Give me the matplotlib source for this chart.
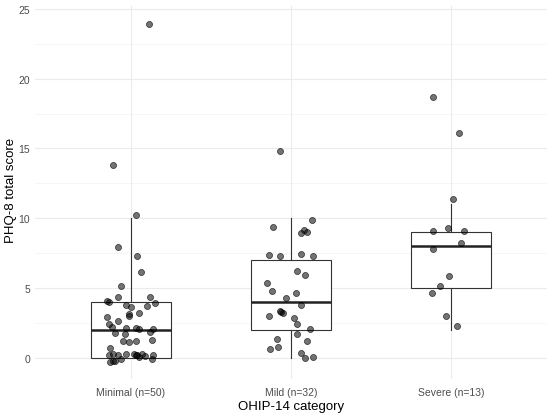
import numpy as np
import matplotlib
matplotlib.use("Agg")
import matplotlib.pyplot as plt

plt.rcParams['font.family'] = ['Liberation Sans', 'DejaVu Sans']

# categories and box statistics
categories = ['Minimal (n=50)', 'Mild (n=32)', 'Severe (n=13)']
whis_lo = [0, 0, 2]
q1 = [0, 2, 5]
med = [2, 4, 8]
q3 = [4, 7, 9]
whis_hi = [10, 10, 11]

# jittered points: horizontal offset from the category centre, and the score
minimal_dx = [0.03, -0.08, 0.04, 0.06, -0.06, -0.08, 0.12, -0.15, -0.14, 0.15,
              -0.03, 0.00, 0.10, 0.05, -0.01, -0.01, -0.15, -0.08, -0.14, -0.12,
              -0.03, 0.03, 0.05, 0.14, 0.12, -0.10, -0.04, 0.13, -0.05, 0.03,
              -0.01, -0.13, -0.14, -0.11, -0.08, -0.03, 0.02, 0.03, 0.07, 0.09,
              0.05, 0.14, 0.13, -0.06, -0.13, -0.11, -0.10, 0.04, -0.11, 0.11]
minimal_y = [10.24, 7.93, 7.30, 6.18, 5.18, 4.39, 4.37, 4.10, 4.03, 3.92,
             3.75, 3.65, 3.68, 3.22, 3.17, 2.98, 2.96, 2.63, 2.39, 2.24,
             2.17, 2.15, 2.03, 2.05, 1.86, 1.81, 1.70, 1.29, 1.24, 1.20,
             1.10, 0.67, 0.17, 0.29, 0.17, 0.31, 0.24, 0.17, 0.26, 0.12,
             0.05, 0.17, -0.10, -0.10, -0.29, -0.26, -0.21, 0.20, 13.78, 23.93]

mild_dx = [0.13, -0.11, 0.08, 0.06, 0.10, -0.14, -0.07, 0.06, 0.14, 0.04,
           0.09, -0.15, -0.12, 0.03, -0.03, 0.06, -0.07, -0.05, -0.06, -0.14,
           0.02, 0.04, 0.12, 0.04, -0.09, 0.10, -0.08, -0.13, 0.06, 0.14,
           0.09, -0.07]
mild_y = [9.84, 9.34, 9.15, 8.95, 8.98, 7.36, 7.28, 7.43, 7.28, 6.23,
          5.90, 5.37, 4.82, 4.63, 4.28, 3.80, 3.35, 3.20, 3.27, 3.01,
          2.84, 2.39, 2.10, 1.72, 1.38, 1.20, 0.79, 0.62, 0.38, 0.07,
          -0.02, 14.83]

severe_dx = [0.01, -0.11, -0.02, 0.08, 0.06, -0.11, -0.01, -0.07, -0.12, -0.03,
             0.04, -0.11, 0.05]
severe_y = [11.37, 9.07, 9.31, 9.07, 8.24, 7.79, 5.85, 5.13, 4.61, 2.99,
            2.27, 18.67, 16.10]

points_dx = [minimal_dx, mild_dx, severe_dx]
points_y = [minimal_y, mild_y, severe_y]

fig = plt.figure(figsize=(5.5, 4.14), dpi=100)
ax = fig.add_axes([0.0636, 0.082, 0.931, 0.901])

# theme_minimal style grid
ax.set_axisbelow(True)
for v in np.arange(0, 26, 5):
    ax.axhline(v, color='#EBEBEB', lw=0.8, zorder=0)
for v in np.arange(2.5, 25, 5):
    ax.axhline(v, color='#F3F3F3', lw=0.5, zorder=0)
for i in range(len(categories)):
    ax.axvline(i + 1, color='#EBEBEB', lw=0.8, zorder=0)

stats = []
for i, name in enumerate(categories):
    stats.append(dict(label=name, whislo=whis_lo[i], q1=q1[i], med=med[i],
                      q3=q3[i], whishi=whis_hi[i], fliers=[]))

ax.bxp(stats, positions=[1, 2, 3], widths=0.5, showcaps=False,
       showfliers=False, patch_artist=True,
       boxprops=dict(facecolor='white', edgecolor='#333333', lw=0.8),
       whiskerprops=dict(color='#333333', lw=0.8),
       medianprops=dict(color='#222222', lw=1.8),
       zorder=2)

for i in range(len(categories)):
    xs = np.array(points_dx[i]) + i + 1
    ax.scatter(xs, points_y[i], s=19, facecolor=(0, 0, 0, 0.55),
               edgecolor=(0, 0, 0, 0.75), linewidth=0.5, zorder=3)

ax.set_xlim(0.4, 3.6)
ax.set_ylim(-1.52, 25.2)
ax.set_yticks([0, 5, 10, 15, 20, 25])
ax.set_xticks([1, 2, 3])
ax.set_xticklabels(categories)
ax.tick_params(length=0, labelsize=7.5, colors='#4D4D4D')
ax.tick_params(axis='x', pad=6)
ax.tick_params(axis='y', pad=3.5)
for s in ax.spines.values():
    s.set_visible(False)

ax.set_xlabel('OHIP-14 category', fontsize=9.5, labelpad=2)
fig.text(11 / 550, 1 - 190 / 414, 'PHQ-8 total score', fontsize=9.5,
         rotation=90, ha='center', va='center')

fig.savefig('out.png', dpi=100)
